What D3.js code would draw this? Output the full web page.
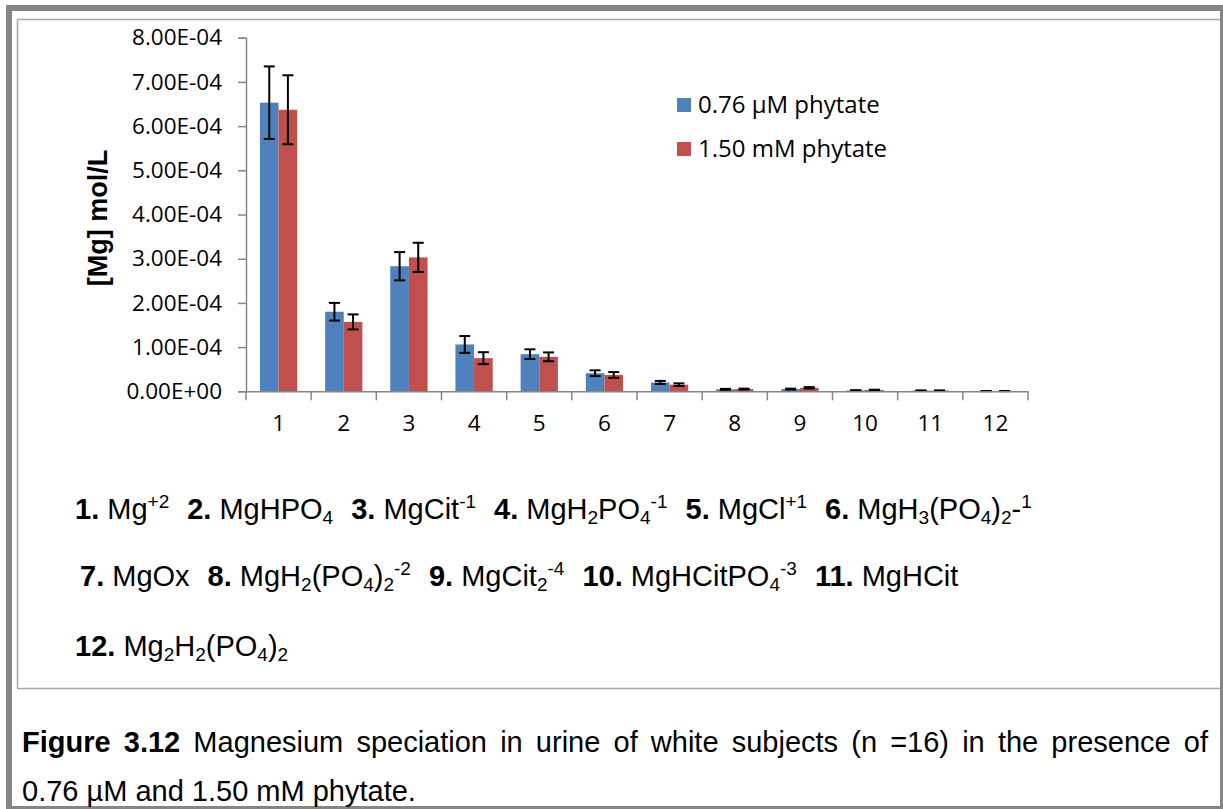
<!DOCTYPE html>
<html lang="en">
<head>
	<meta charset="UTF-8">
	<title>Magnesium speciation</title>
	<script src="https://cdn.jsdelivr.net/npm/d3@7"></script>
	<style>
		body { margin: 0; background: #fff; }
	</style>
</head>
<body>
	<div id="vis"></div>

	<script>
		var width = 1223;
		var height = 809;

		// chart values (mol/L)
		var categories = ["1", "2", "3", "4", "5", "6", "7", "8", "9", "10", "11", "12"];
		var seriesNames = ["0.76 \u00b5M phytate", "1.50 mM phytate"];
		var lowPhytate = [6.53e-4, 1.80e-4, 2.83e-4, 1.06e-4, 0.84e-4, 0.41e-4, 0.20e-4, 0.045e-4, 0.05e-4, 0.02e-4, 0.015e-4, 0.005e-4];
		var lowPhytateErr = [0.82e-4, 0.20e-4, 0.32e-4, 0.19e-4, 0.11e-4, 0.065e-4, 0.035e-4, 0.01e-4, 0.01e-4, 0.005e-4, 0.004e-4, 0.002e-4];
		var highPhytate = [6.37e-4, 1.57e-4, 3.03e-4, 0.75e-4, 0.78e-4, 0.37e-4, 0.15e-4, 0.05e-4, 0.08e-4, 0.03e-4, 0.015e-4, 0.005e-4];
		var highPhytateErr = [0.78e-4, 0.17e-4, 0.33e-4, 0.135e-4, 0.10e-4, 0.065e-4, 0.03e-4, 0.01e-4, 0.015e-4, 0.006e-4, 0.004e-4, 0.002e-4];
		var yTicks = [0, 1e-4, 2e-4, 3e-4, 4e-4, 5e-4, 6e-4, 7e-4, 8e-4];
		var yTickLabels = ["0.00E+00", "1.00E-04", "2.00E-04", "3.00E-04", "4.00E-04", "5.00E-04", "6.00E-04", "7.00E-04", "8.00E-04"];
		var colors = ["#4f81bd", "#c0504d"];

		// species key, each item is a list of [text, kind] pieces
		var speciesLines = [
			[
				[["1.", "b"], [" Mg", "n"], ["+2", "sup"]],
				[["2.", "b"], [" MgHPO", "n"], ["4", "sub"]],
				[["3.", "b"], [" MgCit", "n"], ["-1", "sup"]],
				[["4.", "b"], [" MgH", "n"], ["2", "sub"], ["PO", "n"], ["4", "sub"], ["-1", "sup"]],
				[["5.", "b"], [" MgCl", "n"], ["+1", "sup"]],
				[["6.", "b"], [" MgH", "n"], ["3", "sub"], ["(PO", "n"], ["4", "sub"], [")", "n"], ["2", "sub"], ["-", "n"], ["1", "sup"]]
			],
			[
				[["7.", "b"], [" MgOx", "n"]],
				[["8.", "b"], [" MgH", "n"], ["2", "sub"], ["(PO", "n"], ["4", "sub"], [")", "n"], ["2", "sub"], ["-2", "sup"]],
				[["9.", "b"], [" MgCit", "n"], ["2", "sub"], ["-4", "sup"]],
				[["10.", "b"], [" MgHCitPO", "n"], ["4", "sub"], ["-3", "sup"]],
				[["11.", "b"], [" MgHCit", "n"]]
			],
			[
				[["12.", "b"], [" Mg", "n"], ["2", "sub"], ["H", "n"], ["2", "sub"], ["(PO", "n"], ["4", "sub"], [")", "n"], ["2", "sub"]]
			]
		];
		var captionLine1 = ["Figure", "3.12", "Magnesium", "speciation", "in", "urine", "of", "white", "subjects", "(n", "=16)", "in", "the", "presence", "of"];
		var captionLine2 = "0.76 \u00b5M and 1.50 mM phytate.";

		var svg = d3.select("#vis").append("svg")
				.attr("width", width)
				.attr("height", height);

		// outer frame and inner chart box
		svg.append("rect").attr("x", 6).attr("y", 5).attr("width", 1217).attr("height", 804).attr("fill", "#858585");
		svg.append("rect").attr("x", 12).attr("y", 11).attr("width", 1208).attr("height", 795).attr("fill", "#fff");
		svg.append("path")
			.attr("d", "M17.5,688.5 V19.5 H1220")
			.attr("fill", "none").attr("stroke", "#a6a6a6").attr("stroke-width", 1.5);
		svg.append("line")
			.attr("x1", 17).attr("x2", 1220).attr("y1", 688.5).attr("y2", 688.5)
			.attr("stroke", "#a6a6a6").attr("stroke-width", 1.5);

		// scales
		var x0 = d3.scaleBand()
				.domain(categories)
				.range([246, 1028])
				.paddingInner(0.428)
				.paddingOuter(0.214);
		var x1 = d3.scaleBand()
				.domain([0, 1])
				.range([0, x0.bandwidth()]);
		var y = d3.scaleLinear()
				.domain([0, 8e-4])
				.range([391.3, 37.7]);

		var step = x0.step();
		var axisColor = "#868686";
		var tickFont = "'Open Sans', sans-serif";

		// y axis
		var yAxis = svg.append("g")
				.attr("transform", "translate(246,0)")
				.call(d3.axisLeft(y).tickValues(yTicks).tickSize(8).tickPadding(16)
					.tickFormat(function(d, i) { return yTickLabels[i]; }));
		yAxis.select(".domain").attr("stroke", axisColor).attr("stroke-width", 1.5);
		yAxis.selectAll(".tick line").attr("stroke", axisColor).attr("stroke-width", 1.5);
		yAxis.selectAll(".tick text")
			.attr("fill", "#000")
			.style("font-family", tickFont)
			.style("font-size", "22.5px");

		// bars
		var series = [
			{ values: lowPhytate, errs: lowPhytateErr },
			{ values: highPhytate, errs: highPhytateErr }
		];

		var groups = svg.selectAll(".grp")
				.data(categories)
				.enter().append("g")
				.attr("class", "grp")
				.attr("transform", function(d) { return "translate(" + x0(d) + ",0)"; });

		function pairs(d, i) {
			return series.map(function(s, k) { return { k: k, v: s.values[i], e: s.errs[i] }; });
		}

		groups.selectAll("rect.bar")
			.data(pairs)
			.enter().append("rect")
			.attr("class", "bar")
			.attr("x", function(d) { return x1(d.k); })
			.attr("y", function(d) { return y(d.v); })
			.attr("width", x1.bandwidth())
			.attr("height", function(d) { return y(0) - y(d.v); })
			.attr("fill", function(d) { return colors[d.k]; });

		// error bars
		var capW = 11;
		var errs = groups.selectAll("g.err")
			.data(pairs)
			.enter().append("g")
			.attr("class", "err")
			.attr("stroke", "#000")
			.attr("stroke-width", 2);
		errs.append("line")
			.attr("x1", function(d) { return x1(d.k) + x1.bandwidth() / 2; })
			.attr("x2", function(d) { return x1(d.k) + x1.bandwidth() / 2; })
			.attr("y1", function(d) { return y(d.v + d.e); })
			.attr("y2", function(d) { return y(d.v - d.e); });
		errs.selectAll("line.cap")
			.data(function(d) { return [d.v + d.e, d.v - d.e].map(function(val) { return { k: d.k, val: val }; }); })
			.enter().append("line")
			.attr("class", "cap")
			.attr("x1", function(d) { return x1(d.k) + x1.bandwidth() / 2 - capW / 2; })
			.attr("x2", function(d) { return x1(d.k) + x1.bandwidth() / 2 + capW / 2; })
			.attr("y1", function(d) { return y(d.val); })
			.attr("y2", function(d) { return y(d.val); });

		// x axis: line, boundary ticks, centred labels
		var xAxis = svg.append("g")
				.attr("transform", "translate(0," + y(0) + ")")
				.call(d3.axisBottom(x0).tickSize(0).tickPadding(24));
		xAxis.select(".domain").attr("stroke", axisColor).attr("stroke-width", 1.5);
		xAxis.selectAll(".tick text")
			.attr("fill", "#000")
			.style("font-family", tickFont)
			.style("font-size", "22.5px");
		xAxis.selectAll(".bound")
			.data(d3.range(categories.length + 1))
			.enter().append("line")
			.attr("class", "bound")
			.attr("x1", function(i) { return x0.range()[0] + i * step; })
			.attr("x2", function(i) { return x0.range()[0] + i * step; })
			.attr("y1", 0).attr("y2", 9)
			.attr("stroke", axisColor).attr("stroke-width", 1.5);

		// y axis title
		svg.append("text")
			.attr("transform", "translate(107,218) rotate(-90)")
			.attr("text-anchor", "middle")
			.style("font-family", "'Liberation Sans', Arial, sans-serif")
			.style("font-weight", "bold")
			.style("font-size", "27px")
			.text("[Mg] mol/L");

		// legend
		var legend = svg.selectAll(".leg")
				.data(seriesNames)
				.enter().append("g")
				.attr("class", "leg")
				.attr("transform", function(d, i) { return "translate(677," + (98 + i * 44) + ")"; });
		legend.append("rect")
			.attr("width", 14).attr("height", 14)
			.attr("fill", function(d, i) { return colors[i]; });
		legend.append("text")
			.attr("x", 21).attr("y", 14.5)
			.style("font-family", tickFont)
			.style("font-size", "24px")
			.text(function(d) { return d; });

		// species key
		var lineX = [75, 80, 75];
		var lineY = [519, 586, 656];
		var itemGap = 18;
		speciesLines.forEach(function(items, li) {
			var t = svg.append("text")
					.attr("x", lineX[li]).attr("y", lineY[li])
					.style("font-family", "'Liberation Sans', Arial, sans-serif")
					.style("font-size", "29px");
			var shift = 0;
			items.forEach(function(item, ii) {
				item.forEach(function(p, pi) {
					var ts = t.append("tspan").text(p[0]);
					var dx = (pi === 0 && ii > 0) ? itemGap : 0;
					var target = p[1] === "sub" ? 5 : (p[1] === "sup" ? -11 : 0);
					var dy = target - shift;
					shift = target;
					if (dx) ts.attr("dx", dx);
					if (dy) ts.attr("dy", dy);
					if (p[1] === "b") ts.style("font-weight", "bold");
					if (p[1] === "sub" || p[1] === "sup") ts.style("font-size", "19px");
				});
			});
		});

		// caption, first line justified across the frame
		var capLeft = 22, capRight = 1208;
		var capG = svg.append("g")
				.style("font-family", "'Liberation Sans', Arial, sans-serif")
				.style("font-size", "29px");
		var words = capG.selectAll(".w")
				.data(captionLine1)
				.enter().append("text")
				.attr("class", "w")
				.attr("y", 752)
				.style("font-weight", function(d, i) { return i < 2 ? "bold" : "normal"; })
				.text(function(d) { return d; });
		var widths = [];
		words.each(function() { widths.push(this.getComputedTextLength()); });
		var gap = (capRight - capLeft - d3.sum(widths)) / (captionLine1.length - 1);
		var cx = capLeft;
		words.attr("x", function(d, i) { var v = cx; cx += widths[i] + gap; return v; });
		capG.append("text")
			.attr("x", capLeft).attr("y", 801)
			.text(captionLine2);
	</script>
</body>
</html>
